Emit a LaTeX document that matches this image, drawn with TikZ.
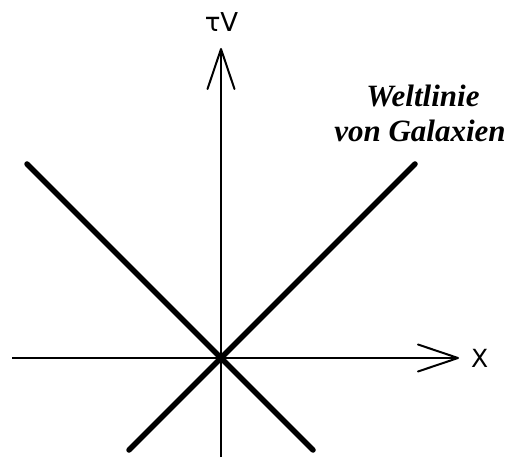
\documentclass[tikz,border=0pt]{standalone}
\usepackage{fontspec}
\setmainfont{Liberation Serif}
\newfontfamily\axisfont{DejaVu Sans}
\usetikzlibrary{arrows.meta}
\tikzset{
  axisline/.style={line width=2pt, -{Straight Barb[length=40pt,width=27pt,line width=2pt,round]}},
  worldline/.style={line width=5.5pt, line cap=round},
  axislabel/.style={font=\axisfont\fontsize{26}{26}\selectfont, inner sep=0pt},
  galaxylabel/.style={font=\fontsize{31}{31}\selectfont\bfseries\itshape, inner sep=0pt}
}
\begin{document}
\begin{tikzpicture}[x=1pt,y=1pt]
\useasboundingbox (0,0) rectangle (510,457);
\coordinate (O) at (221,99);
\coordinate (xs) at (12,99);
\coordinate (xe) at (459,99);
\coordinate (ys) at (221,0);
\coordinate (ye) at (221,409);
\coordinate (a1) at (27,293);
\coordinate (a2) at (313,7);
\coordinate (b1) at (415,293);
\coordinate (b2) at (129,7);
\draw[axisline] (xs) -- (xe);
\draw[axisline] (ys) -- (ye);
\draw[worldline] (a1) -- (O) -- (a2);
\draw[worldline] (b1) -- (O) -- (b2);
\node[axislabel, anchor=base] (tv) at (221.5,425) {τV};
\node[axislabel, anchor=base west, font=\axisfont\fontsize{25}{25}\selectfont] (xl) at (471,89) {X};
\node[galaxylabel, anchor=base] (w1) at (423,350) {Weltlinie};
\node[galaxylabel, anchor=base] (w2) at (420,315) {von Galaxien};
\end{tikzpicture}
\end{document}
